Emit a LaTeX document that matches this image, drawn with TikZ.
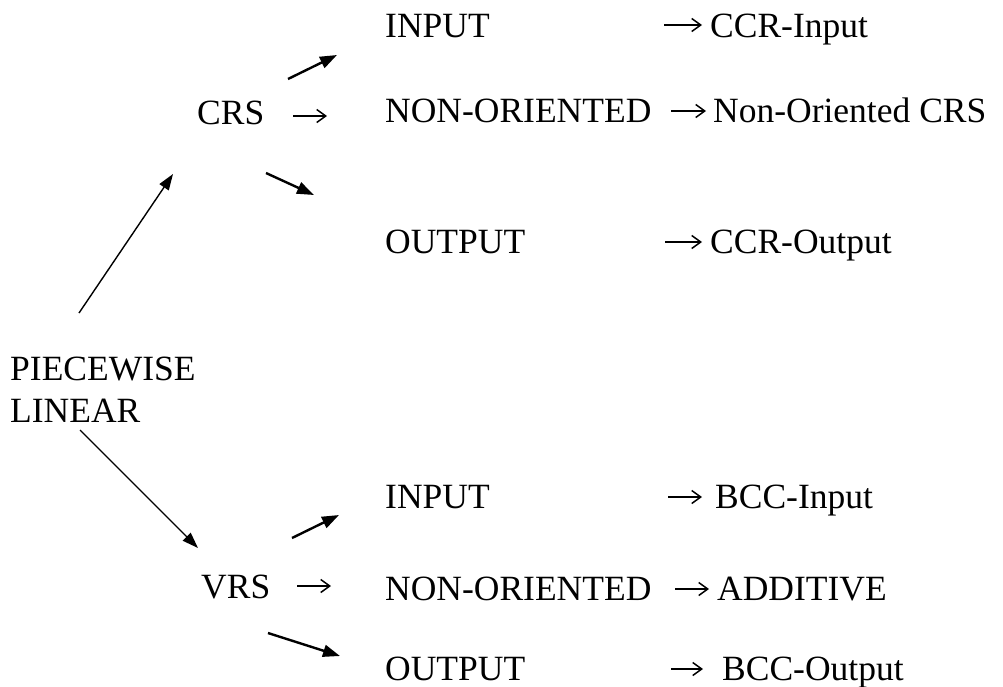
\documentclass[tikz,border=0pt]{standalone}
\usepackage{fontspec}
\setmainfont{Liberation Serif}
\usepackage{tikz}
\usetikzlibrary{arrows.meta}
\tikzset{
	txt/.style={inner sep=0pt,anchor=base west,font=\fontsize{35.5}{42}\selectfont},
	bigarr/.style={-{Triangle[length=16pt,width=11pt]},line width=1.4pt},
	smallarr/.style={-{Triangle[length=17pt,width=12pt]},line width=2.4pt},
	txtarr/.style={-{Straight Barb[length=9pt,width=13pt]},line width=1.5pt}
}
\begin{document}
\begin{tikzpicture}[x=1pt,y=-1pt]
						\useasboundingbox (0,0) rectangle (1003,686);

						\node [txt] (crs) at (197,124) {CRS};
						\node [txt] (inA) at (385,37) {INPUT};
						\node [txt] (ccrin) at (710,37) {CCR-Input};
						\node [txt] (noA) at (385,122) {NON-ORIENTED};
						\node [txt] (noncrs) at (713,122) {Non-Oriented CRS};
						\node [txt] (outA) at (385,253) {OUTPUT};
						\node [txt] (ccrout) at (710,253) {CCR-Output};

						\node [txt,anchor=north west,align=left] (pl) at (10,356.5) {PIECEWISE\\LINEAR};

						\node [txt] (vrs) at (201,598) {VRS};
						\node [txt] (inB) at (385,508) {INPUT};
						\node [txt] (bccin) at (715,508) {BCC-Input};
						\node [txt] (noB) at (385,600) {NON-ORIENTED};
						\node [txt] (add) at (717,600) {ADDITIVE};
						\node [txt] (outB) at (385,680) {OUTPUT};
						\node [txt] (bccout) at (722,680) {BCC-Output};

						\coordinate (crsar) at (293,116);
						\coordinate (ccrinar) at (664,25);
						\coordinate (noncrsar) at (671,111);
						\coordinate (ccroutar) at (665,242);
						\coordinate (vrsar) at (297,586);
						\coordinate (bccinar) at (668,497);
						\coordinate (addar) at (675,589);
						\coordinate (bccoutar) at (671,669);

						\draw [txtarr,shorten >=58pt] (crsar) -- (crsar -| noA.west);
						\draw [txtarr,shorten >=8pt] (ccrinar) -- (ccrinar -| ccrin.west);
						\draw [txtarr,shorten >=7pt] (noncrsar) -- (noncrsar -| noncrs.west);
						\draw [txtarr,shorten >=8pt] (ccroutar) -- (ccroutar -| ccrout.west);
						\draw [txtarr,shorten >=54pt] (vrsar) -- (vrsar -| noB.west);
						\draw [txtarr,shorten >=13pt] (bccinar) -- (bccinar -| bccin.west);
						\draw [txtarr,shorten >=8pt] (addar) -- (addar -| add.west);
						\draw [txtarr,shorten >=19pt] (bccoutar) -- (bccoutar -| bccout.west);

						\coordinate (plup) at (79,313);
						\coordinate (crstip) at (173,174);
						\coordinate (pldown) at (80,430);
						\coordinate (vrstip) at (198,548);
						\coordinate (crsup) at (288,79);
						\coordinate (inAtip) at (337,55);
						\coordinate (crsdown) at (266,173);
						\coordinate (outAtip) at (314,195);
						\coordinate (vrsup) at (292,538);
						\coordinate (inBtip) at (339,515);
						\coordinate (vrsdown) at (268,633);
						\coordinate (outBtip) at (340,656);

						\draw [bigarr] (plup) -- (crstip);
						\draw [bigarr] (pldown) -- (vrstip);
						\draw [smallarr] (crsup) -- (inAtip);
						\draw [smallarr] (crsdown) -- (outAtip);
						\draw [smallarr] (vrsup) -- (inBtip);
						\draw [smallarr] (vrsdown) -- (outBtip);
					\end{tikzpicture}
\end{document}
